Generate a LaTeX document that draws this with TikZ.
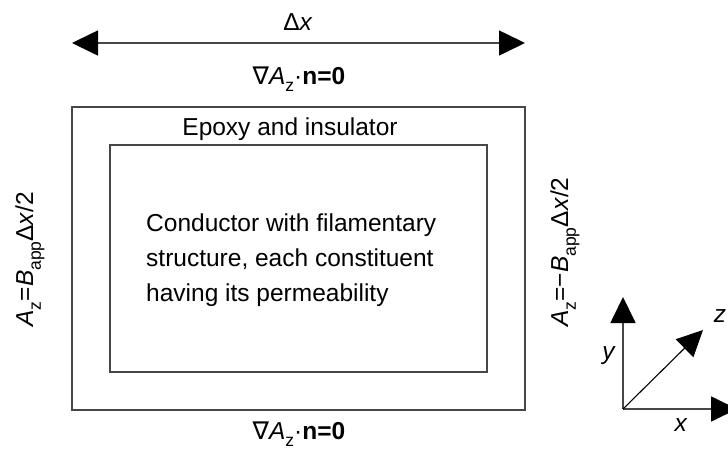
\documentclass[tikz,border=0pt]{standalone}
\usepackage{fontspec}
\setmainfont{Liberation Sans}
\newfontfamily\symfont{DejaVu Sans}
\usetikzlibrary{arrows.meta}
% subscript set a little smaller and dropped below the baseline
\newcommand\lowidx[1]{\raisebox{-0.32em}{\fontsize{17.5}{17.5}\selectfont #1}}
\newcommand\Dlt{\char"0394}
\newcommand\nablaA{{\symfont\char"2207}\textit{A}\lowidx{z}\char"00B7\textbf{n=0}}
\begin{document}
\begin{tikzpicture}[x=1pt,y=-1pt,
  frame/.style={draw=black!72,line width=1.6pt},
  headtip/.tip={Triangle[length=26pt,width=25pt,color=black]},
  label/.style={inner sep=0pt,font=\fontsize{24.5}{24.5}\selectfont},
  axis/.style={draw=black!72,line width=1.8pt,-headtip},
  ]
  \useasboundingbox (0,0) rectangle (728,453);
  % boundary of the domain and the conductor region
  \draw[frame] (72,107) rectangle (525,410);
  \draw[frame] (110,145) rectangle (487,372);
  % width arrow
  \coordinate (wl) at (72,43);
  \coordinate (wr) at (525,43);
  \draw[draw=black!72,line width=1.6pt,headtip-headtip] (wl) -- (wr);
  \node[label,anchor=base] (dx) at (298,30) {\Dlt\textit{x}};
  % boundary conditions
  \node[label,anchor=base] (top) at (299,84) {\nablaA};
  \node[label,anchor=base] (bot) at (299,439) {\nablaA};
  \node[label,anchor=base,rotate=90] (lft) at (33,259)
    {\textit{A}\lowidx{z}=\textit{B}\lowidx{app}\Dlt\textit{x}/2};
  \node[label,anchor=base,rotate=90] (rgt) at (568,252)
    {\textit{A}\lowidx{z}=\textminus\textit{B}\lowidx{app}\Dlt\textit{x}/2};
  % region labels
  \node[label,anchor=base] (epoxy) at (290,135) {Epoxy and insulator};
  \node[label,anchor=north west,align=left,font=\fontsize{24.5}{35}\selectfont] (cond) at (146,214)
    {Conductor with filamentary\\structure, each constituent\\having its permeability};
  % coordinate axes
  \coordinate (o) at (623,409);
  \coordinate (ytip) at (623,297);
  \coordinate (xtip) at (737,409);
  \coordinate (ztip) at (703,330);
  \draw[axis] (o) -- (ytip);
  \draw[axis] (o) -- (xtip);
  \draw[draw=black,line width=1.1pt,-headtip] (o) -- (ztip);
  \node[label] (ylab) at (609,356) {\textit{y}};
  \node[label] (xlab) at (681,425) {\textit{x}};
  \node[label] (zlab) at (720,316) {\textit{z}};
\end{tikzpicture}
\end{document}
